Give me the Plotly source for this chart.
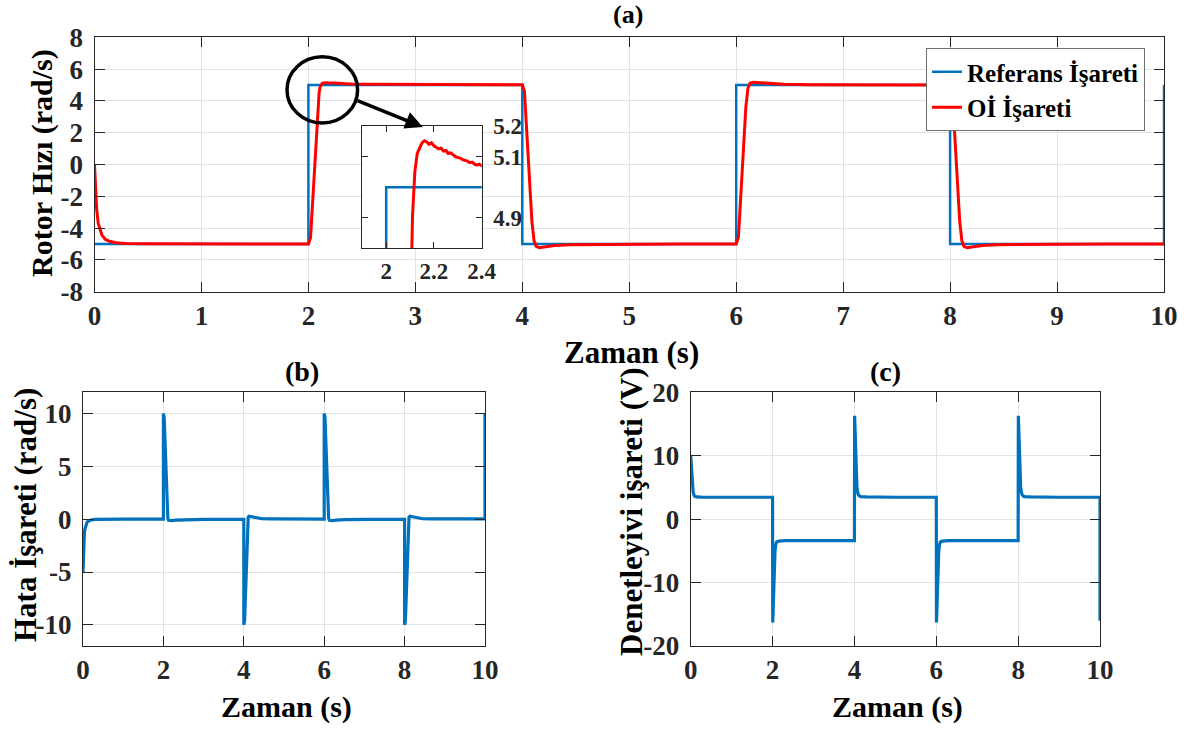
import plotly.graph_objects as go

# ---------------- data ----------------
ref_t = [0, 2, 2, 4, 4, 6, 6, 8, 8, 10, 10]
ref_v = [-5, -5, 5, 5, -5, -5, 5, 5, -5, -5, 5]

out_t = [0, 0.01, 0.02, 0.035, 0.05, 0.07, 0.1, 0.14, 0.2, 0.3, 0.5, 1.0, 1.5, 2.0,
         2.02, 2.03, 2.05, 2.07, 2.09, 2.10, 2.11, 2.12, 2.13, 2.14, 2.15, 2.16, 2.17,
         2.18, 2.19, 2.20, 2.21, 2.22, 2.23, 2.24, 2.25, 2.26, 2.27, 2.28, 2.29, 2.30,
         2.31, 2.32, 2.33, 2.34, 2.35, 2.36, 2.37, 2.38, 2.39, 2.40, 2.6, 3.0, 3.5, 4.0,
         4.02, 4.03, 4.05, 4.07, 4.09, 4.11, 4.13, 4.16, 4.2, 4.3, 4.45, 4.7, 5.0, 5.5, 6.0,
         6.02, 6.03, 6.05, 6.07, 6.09, 6.11, 6.13, 6.16, 6.2, 6.3, 6.45, 6.7, 7.0, 7.5, 8.0,
         8.02, 8.03, 8.05, 8.07, 8.09, 8.11, 8.13, 8.16, 8.2, 8.3, 8.45, 8.7, 9.0, 9.5, 10.0]
out_v = [0, -1.6, -2.8, -3.7, -4.1, -4.45, -4.7, -4.83, -4.92, -4.97, -4.99, -5.0, -5.0, -5.0,
         -4.6, -3.5, -1.0, 1.5, 3.6, 4.5, 4.9, 5.05, 5.11, 5.13, 5.145, 5.152, 5.148,
         5.14, 5.145, 5.135, 5.13, 5.125, 5.128, 5.118, 5.12, 5.11, 5.112, 5.105, 5.10, 5.097,
         5.095, 5.09, 5.088, 5.085, 5.08, 5.082, 5.075, 5.072, 5.075, 5.07, 5.05, 5.03, 5.02, 5.02,
         4.6, 3.5, 1.0, -1.5, -3.6, -4.8, -5.15, -5.24, -5.2, -5.1, -5.04, -5.02, -5.0, -5.0, -5.0,
         -4.6, -3.5, -1.0, 1.5, 3.6, 4.8, 5.12, 5.17, 5.15, 5.09, 5.04, 5.02, 5.01, 5.0, 5.0,
         4.6, 3.5, 1.0, -1.5, -3.6, -4.8, -5.15, -5.24, -5.2, -5.1, -5.04, -5.02, -5.0, -5.0, -5.0]

err_t = [0, 0.01, 0.02, 0.035, 0.05, 0.07, 0.1, 0.14, 0.2, 0.3, 0.5, 1.0, 2.0,
         2.0, 2.02, 2.03, 2.05, 2.07, 2.09, 2.11, 2.13, 2.16, 2.2, 2.3, 2.5, 3.0, 4.0,
         4.0, 4.02, 4.03, 4.05, 4.07, 4.09, 4.11, 4.13, 4.16, 4.2, 4.3, 4.45, 4.7, 5.5, 6.0,
         6.0, 6.02, 6.03, 6.05, 6.07, 6.09, 6.11, 6.13, 6.16, 6.2, 6.3, 6.5, 7.0, 8.0,
         8.0, 8.02, 8.03, 8.05, 8.07, 8.09, 8.11, 8.13, 8.16, 8.2, 8.3, 8.45, 8.7, 9.5, 10.0,
         10.0]
err_v = [-5, -3.4, -2.2, -1.3, -0.9, -0.55, -0.3, -0.17, -0.08, -0.03, -0.01, 0.0, 0.0,
         10.0, 9.6, 8.5, 6.0, 3.5, 1.4, 0.1, -0.11, -0.15, -0.13, -0.09, -0.06, -0.03, -0.02,
         -10.0, -9.6, -8.5, -6.0, -3.5, -1.4, 0.2, 0.28, 0.26, 0.2, 0.1, 0.04, 0.02, 0.0, 0.0,
         10.0, 9.6, 8.5, 6.0, 3.5, 1.4, 0.1, -0.11, -0.15, -0.13, -0.09, -0.04, -0.02, -0.02,
         -10.0, -9.6, -8.5, -6.0, -3.5, -1.4, 0.2, 0.28, 0.26, 0.2, 0.1, 0.04, 0.02, 0.02, 0.02,
         10.0]

u_t = [0, 0.02, 0.04, 0.06, 0.08, 0.1, 0.15, 0.3, 1.0, 2.0,
       2.005, 2.02, 2.04, 2.06, 2.08, 2.1, 2.15, 2.3, 3.0, 4.0,
       4.005, 4.02, 4.04, 4.06, 4.08, 4.1, 4.15, 4.3, 5.0, 6.0,
       6.005, 6.02, 6.04, 6.06, 6.08, 6.1, 6.15, 6.3, 7.0, 8.0,
       8.005, 8.02, 8.04, 8.06, 8.08, 8.1, 8.15, 8.3, 9.0, 10.0, 10.0]
u_v = [10.0, 7.5, 5.5, 4.3, 3.8, 3.6, 3.5, 3.45, 3.45, 3.45,
       -16.3, -12.5, -7.5, -5.0, -4.0, -3.6, -3.45, -3.4, -3.4, -3.4,
       16.3, 12.5, 7.5, 5.2, 4.2, 3.8, 3.55, 3.5, 3.45, 3.45,
       -16.3, -12.5, -7.5, -5.0, -4.0, -3.6, -3.45, -3.4, -3.4, -3.4,
       16.3, 12.5, 7.5, 5.2, 4.2, 3.8, 3.55, 3.5, 3.45, 3.45, -16.0]

x_ticks_a = [0, 1, 2, 3, 4, 5, 6, 7, 8, 9, 10]
y_ticks_a = [-8, -6, -4, -2, 0, 2, 4, 6, 8]
x_ticks_bc = [0, 2, 4, 6, 8, 10]
y_ticks_b = [-10, -5, 0, 5, 10]
y_ticks_c = [-20, -10, 0, 10, 20]
inset_x_ticks = [2, 2.2, 2.4]
inset_y_ticks = [4.9, 5.1, 5.2]

# ---------------- style ----------------
BLUE = "#0072BD"
RED = "#FF0000"
FONT = "Liberation Serif, Times New Roman, DejaVu Serif, serif"
AX = "#262626"
GRID = "#E3E3E3"
W, H = 1190, 731


def px_x(p):
    return p / W


def px_y(p):
    return 1 - p / H


def lab(vals):
    return [f"{v:g}" for v in vals]


fig = go.Figure()

fig.add_trace(go.Scatter(x=ref_t, y=ref_v, mode="lines", name="Referans İşareti",
                         line=dict(color=BLUE, width=2.5), xaxis="x", yaxis="y"))
fig.add_trace(go.Scatter(x=out_t, y=out_v, mode="lines", name="Oİ İşareti",
                         line=dict(color=RED, width=3), xaxis="x", yaxis="y"))
fig.add_trace(go.Scatter(x=ref_t, y=ref_v, mode="lines", showlegend=False,
                         line=dict(color=BLUE, width=2.5), xaxis="x4", yaxis="y4"))
fig.add_trace(go.Scatter(x=out_t, y=out_v, mode="lines", showlegend=False,
                         line=dict(color=RED, width=3), xaxis="x4", yaxis="y4"))
fig.add_trace(go.Scatter(x=err_t, y=err_v, mode="lines", showlegend=False,
                         line=dict(color=BLUE, width=3.2), xaxis="x2", yaxis="y2"))
fig.add_trace(go.Scatter(x=u_t, y=u_v, mode="lines", showlegend=False,
                         line=dict(color=BLUE, width=3.2), xaxis="x3", yaxis="y3"))

tickfont = dict(family=FONT, size=27, color=AX, weight="bold")

common = dict(showline=True, linecolor=AX, linewidth=1, mirror="ticks",
              ticks="inside", ticklen=10, tickcolor=AX, showgrid=True,
              gridcolor=GRID, gridwidth=1, zeroline=False, tickfont=tickfont,
              automargin=False)

inset_common = dict(showline=True, linecolor=AX, mirror="ticks", ticks="inside",
                    ticklen=6, tickcolor=AX, showgrid=False, zeroline=False,
                    tickfont=dict(family=FONT, size=23, color=AX, weight="bold"),
                    automargin=False)

fig.update_layout(
    width=W, height=H,
    margin=dict(l=0, r=0, t=0, b=0, pad=0, autoexpand=False),
    paper_bgcolor="white", plot_bgcolor="white",
    font=dict(family=FONT, color="black"),
    showlegend=True,
    legend=dict(x=px_x(926), y=px_y(48), xanchor="left", yanchor="top",
                bgcolor="white", bordercolor="#707070", borderwidth=1,
                font=dict(family=FONT, size=25, color="black", weight="bold"),
                tracegroupgap=0, itemwidth=30),
    xaxis=dict(domain=[px_x(94.5), px_x(1164)], range=[0, 10], anchor="y",
               tickvals=x_ticks_a, ticktext=lab(x_ticks_a), ticklabelstandoff=0, **common),
    yaxis=dict(domain=[px_y(291.7), px_y(37.3)], range=[-8, 8], anchor="x",
               tickvals=y_ticks_a, ticktext=lab(y_ticks_a), ticklabelstandoff=5, **common),
    xaxis2=dict(domain=[px_x(83), px_x(485)], range=[0, 10], anchor="y2",
                tickvals=x_ticks_bc, ticktext=lab(x_ticks_bc), ticklabelstandoff=0, **common),
    yaxis2=dict(domain=[px_y(646), px_y(392.3)], range=[-12, 12], anchor="x2",
                tickvals=y_ticks_b, ticktext=lab(y_ticks_b), ticklabelstandoff=5, **common),
    xaxis3=dict(domain=[px_x(690.7), px_x(1100)], range=[0, 10], anchor="y3",
                tickvals=x_ticks_bc, ticktext=lab(x_ticks_bc), ticklabelstandoff=0, **common),
    yaxis3=dict(domain=[px_y(646), px_y(392.3)], range=[-20, 20], anchor="x3",
                tickvals=y_ticks_c, ticktext=lab(y_ticks_c), ticklabelstandoff=5, **common),
    xaxis4=dict(domain=[px_x(362.3), px_x(481.7)], range=[1.9, 2.4], anchor="y4",
                tickvals=inset_x_ticks, ticktext=lab(inset_x_ticks),
                ticklabelstandoff=2, **inset_common),
    yaxis4=dict(domain=[px_y(248.3), px_y(126)], range=[4.8, 5.2], anchor="x4",
                side="right", tickvals=inset_y_ticks, ticktext=lab(inset_y_ticks),
                ticklabelstandoff=6, **inset_common),
)

tfont = dict(family=FONT, color="black", weight="bold")
annots = [
    dict(text="(a)", x=px_x(628), y=px_y(15), size=26, angle=0),
    dict(text="Zaman (s)", x=px_x(631), y=px_y(352), size=31, angle=0),
    dict(text="Rotor Hızı (rad/s)", x=px_x(42), y=px_y(163), size=30, angle=-90),
    dict(text="(b)", x=px_x(302), y=px_y(371), size=28, angle=0),
    dict(text="(c)", x=px_x(885), y=px_y(371), size=28, angle=0),
    dict(text="Hata İşareti (rad/s)", x=px_x(25), y=px_y(515), size=31, angle=-90),
    dict(text="Denetleyivi işareti (V)", x=px_x(631), y=px_y(512), size=31, angle=-90),
    dict(text="Zaman (s)", x=px_x(286), y=px_y(707), size=30, angle=0),
    dict(text="Zaman (s)", x=px_x(897), y=px_y(707), size=30, angle=0),
]
for a in annots:
    fig.add_annotation(text=a["text"], x=a["x"], y=a["y"], xref="paper", yref="paper",
                       showarrow=False, textangle=a["angle"], xanchor="center",
                       yanchor="middle", font=dict(size=a["size"], **tfont))

fig.add_shape(type="circle", xref="x", yref="y", x0=1.80, x1=2.46, y0=2.61, y1=6.77,
              line=dict(color="black", width=3.5))
fig.add_annotation(x=3.07, y=2.36, ax=2.445, ay=4.06, xref="x", yref="y",
                   axref="x", ayref="y", showarrow=True, arrowhead=2,
                   arrowsize=1, arrowwidth=3.5, arrowcolor="black", text="")

fig.write_html("out.html")
